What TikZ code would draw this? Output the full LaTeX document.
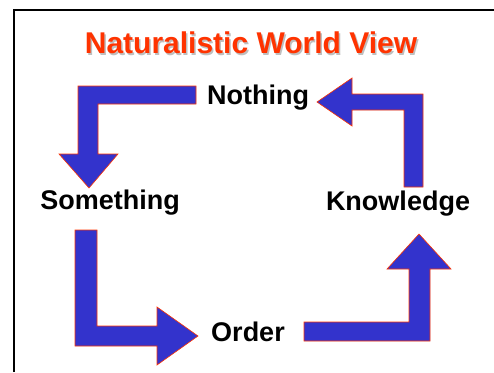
\documentclass[tikz,border=0pt]{standalone}
\usepackage{fontspec}
\setmainfont{Liberation Sans}
\definecolor{arrowblue}{HTML}{3333CC}
\definecolor{titlered}{HTML}{FF3300}
\tikzset{
  blockarrow/.style={fill=arrowblue, draw=titlered, line width=0.6pt, line join=miter},
  lbl/.style={font=\fontsize{27}{30}\selectfont\bfseries, text=black, inner sep=0pt},
  ttl/.style={font=\fontsize{30}{34}\selectfont\bfseries, inner sep=0pt}
}
\begin{document}
\begin{tikzpicture}[x=1pt,y=-1pt]
\useasboundingbox (0,0) rectangle (494,372);
\fill[white] (0,0) rectangle (494,372);
% frame
\draw[black, line width=1.3pt] (14,372) -- (14,10) -- (494,10);
% title with shadow
\node[ttl, text=black!25] (titleshadow) at (252.5,44.5) {Naturalistic World View};
\node[ttl, text=titlered] (title) at (251,43) {Naturalistic World View};
% labels
\node[lbl] (nothing) at (258,98) {Nothing};
\node[lbl] (something) at (110,203) {Something};
\node[lbl] (knowledge) at (398,204) {Knowledge};
\node[lbl] (order) at (248,332) {Order};
% arrows
\draw[blockarrow] (196,86) -- (78,86) -- (78,154) -- (59,154) -- (89,188) -- (118,154) -- (98,154) -- (98,104) -- (196,104) -- cycle;
\draw[blockarrow] (75,230) -- (97,230) -- (97,326) -- (157,326) -- (157,307) -- (198,336) -- (157,365) -- (157,346) -- (75,346) -- cycle;
\draw[blockarrow] (304,322) -- (409,322) -- (409,269) -- (387,269) -- (419,234) -- (451,269) -- (430,269) -- (430,341) -- (304,341) -- cycle;
\draw[blockarrow] (423,187) -- (404,187) -- (404,110) -- (352,110) -- (352,126) -- (317,102) -- (352,78) -- (352,94) -- (423,94) -- cycle;
\end{tikzpicture}
\end{document}
